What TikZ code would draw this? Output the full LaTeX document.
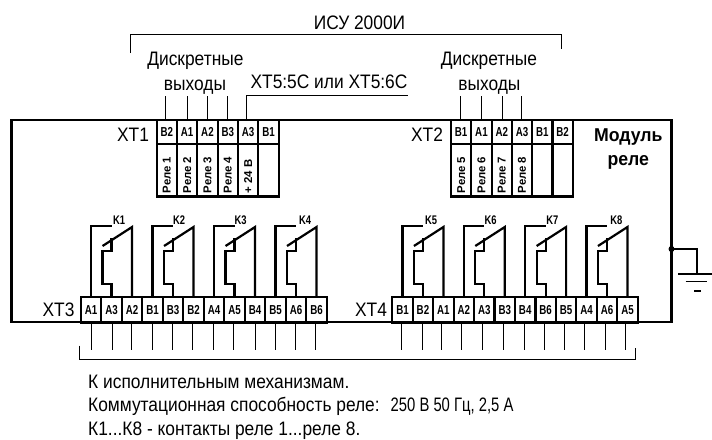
\documentclass[tikz,border=0pt]{standalone}
\usepackage{fontspec}
\setmainfont{Liberation Sans}
\newfontfamily\narrowfont[FakeStretch=0.75]{Liberation Sans}
\newfontfamily\tallfont[FakeStretch=0.89]{Liberation Sans}
\newfontfamily\numfont[FakeStretch=0.76]{Liberation Sans}
\newfontfamily\modfont[FakeStretch=0.95]{Liberation Sans}
\tikzset{x=1pt,y=-1pt,
 thickline/.style={line width=2.2pt},
 thinline/.style={line width=0.9pt},
 lbl/.style={inner sep=0pt,anchor=base,font=\fontsize{19.5}{21}\tallfont},
 notetext/.style={inner sep=0pt,anchor=base west,font=\fontsize{19.5}{21}\tallfont},
 boldlbl/.style={inner sep=0pt,anchor=base,font=\fontsize{18.6}{20}\modfont\bfseries},
 cell/.style={draw,fill=white,thickline,inner sep=0pt,outer sep=0pt,font=\fontsize{13}{14}\narrowfont\bfseries},
 vlab/.style={inner sep=0pt,rotate=90,anchor=west,font=\fontsize{11.4}{12}\selectfont\bfseries},
 klab/.style={inner sep=0pt,font=\fontsize{12.5}{13}\narrowfont\bfseries}}
% strip of terminals: prefix, left x, cell width, top y, height, labels
\newcommand{\termstrip}[6]{%
 \foreach \lab [count=\i] in {#6}
  \node[cell,minimum width=#3,minimum height=#5] (#1\i) at ({#2+(\i-0.5)*#3},{#4+0.5*#5}) {\lab};}
% relay: three terminals, label, label x
\newcommand{\relay}[5]{%
 \draw[thickline,line join=miter] (#1.north) -- ++(0,-71) -- (#2.north |- 0,226);
 \draw[thickline] (#3.north) -- ++(0,-70) -- ++(-29.5,19);
 \draw[thickline] (#2.north) -- ++(0,-13) -- ++(-9,0) -- ++(0,-33) -- ++(9,0) -- ++(0,-13);
 \node[klab] (#4) at (#5,220) {#4};}
\begin{document}
\begin{tikzpicture}
\useasboundingbox (0,0) rectangle (712,439);
\fill[white] (0,0) rectangle (712,439);
% module frame
\node[draw,thickline,inner sep=0pt,outer sep=0pt,minimum width=660,minimum height=202.5] (frame) at (341.5,221) {};
% terminals
\termstrip{ta}{156.6}{20.35}{120}{24}{B2,A1,A2,B3,A3,B1}
\termstrip{tb}{451}{20.3}{120}{24}{B1,A1,A2,A3,B1,B2}
\termstrip{la}{156.6}{20.35}{144}{52.5}{,,,,,}
\termstrip{lb}{451}{20.3}{144}{52.5}{,,,,,}
\termstrip{c}{80.8}{20.5}{297}{25.5}{A1,A3,A2,B1,B3,B2,A4,A5,B4,B5,A6,B6}
\termstrip{d}{392.3}{20.45}{297}{25.5}{B1,B2,A1,A2,A3,B3,B4,B6,B5,A4,A6,A5}
% vertical labels
\foreach \n/\t in {la1/Реле 1,la2/Реле 2,la3/Реле 3,la4/Реле 4,la5/+ 24 В,lb1/Реле 5,lb2/Реле 6,lb3/Реле 7,lb4/Реле 8}
 \node[vlab] at (\n.south |- 0,193.5) {\t};
% relays
\relay{c1}{c2}{c3}{K1}{119}
\relay{c4}{c5}{c6}{K2}{179}
\relay{c7}{c8}{c9}{K3}{240.5}
\relay{c10}{c11}{c12}{K4}{305}
\relay{d1}{d2}{d3}{K5}{431}
\relay{d4}{d5}{d6}{K6}{490.7}
\relay{d7}{d8}{d9}{K7}{552.3}
\relay{d10}{d11}{d12}{K8}{616.3}
% wires to the top of the strips
\foreach \n/\dx in {ta1/-1.3,ta2/0,ta3/0,ta4/-0.5}
 \draw[thinline] ([xshift=\dx]\n.north) -- ++(0,-24);
\foreach \n/\dx in {tb1/-1,tb2/0,tb3/1,tb4/-1}
 \draw[thinline] ([xshift=\dx]\n.north) -- ++(0,-24);
\coordinate (xtend) at (408,95.5);
\draw[thinline] ([xshift=-1.3]ta5.north) |- (xtend);
% wires below the strips
\foreach \n/\dx in {c1/0,c2/0.5,c3/-0.7,c4/0.2,c5/-1,c6/-1,c7/-1,c8/-1,c9/0,c10/-0.5,c11/-1,c12/-1.5}
 \draw[thinline] ([xshift=\dx]\n.south) -- ++(0,27);
\foreach \n/\dx in {d1/-1.5,d2/-0.5,d3/-1.5,d4/-2,d5/-2,d6/-1,d7/-1,d8/-1.5,d9/-1.5,d10/-2,d11/-2,d12/-2}
 \draw[thinline] ([xshift=\dx]\n.south) -- ++(0,27);
% brackets
\coordinate (br1) at (130.3,53);
\coordinate (br2) at (130.3,34.5);
\coordinate (br3) at (561.7,34.5);
\coordinate (br4) at (561.7,49);
\draw[thinline] (br1) -- (br2) -- (br3) -- (br4);
\coordinate (bb1) at (79.3,345.7);
\coordinate (bb2) at (79.3,359.5);
\coordinate (bb3) at (635.7,359.5);
\coordinate (bb4) at (635.7,347.7);
\draw[thinline] (bb1) -- (bb2) -- (bb3) -- (bb4);
% earth
\coordinate (gnd) at (671.5,249);
\coordinate (gndcorner) at (697.3,249);
\coordinate (gndbar) at (697.3,274);
\fill (gnd) circle (3);
\draw[thickline] (gnd) -- (gndcorner) -- (gndbar);
\draw[thickline] (678,274) -- (712,274);
\draw[line width=1.3pt] (685.7,281.7) -- (706.7,281.7);
\draw[thickline] (694,290.7) -- (700.7,290.7);
% texts
\node[lbl] (t0) at (359.5,29) {ИСУ 2000И};
\node[lbl] (t1) at (195.4,65.7) {Дискретные};
\node[lbl] (t2) at (195,90) {выходы};
\node[lbl] (t3) at (329,88.3) {ХТ5:5С или ХТ5:6С};
\node[lbl] (t4) at (489,65.7) {Дискретные};
\node[lbl] (t5) at (489.4,90) {выходы};
\node[lbl] (x1) at (133,141.7) {ХТ1};
\node[lbl] (x2) at (427,141.7) {ХТ2};
\node[lbl] (x3) at (58.5,316) {ХТ3};
\node[lbl] (x4) at (371,316) {ХТ4};
\node[boldlbl] (m1) at (628.3,141.7) {Модуль};
\node[boldlbl] (m2) at (628.3,165.7) {реле};
\node[notetext] (n1) at (88,388) {К исполнительным механизмам.};
\node[notetext] (n2) at (88,411.5) {Коммутационная способность реле:\hspace{11pt}{\numfont 250 В 50 Гц, 2,5 А}};
\node[notetext] (n3) at (88,435) {К1...К8 - контакты реле 1...реле 8.};
\end{tikzpicture}
\end{document}
